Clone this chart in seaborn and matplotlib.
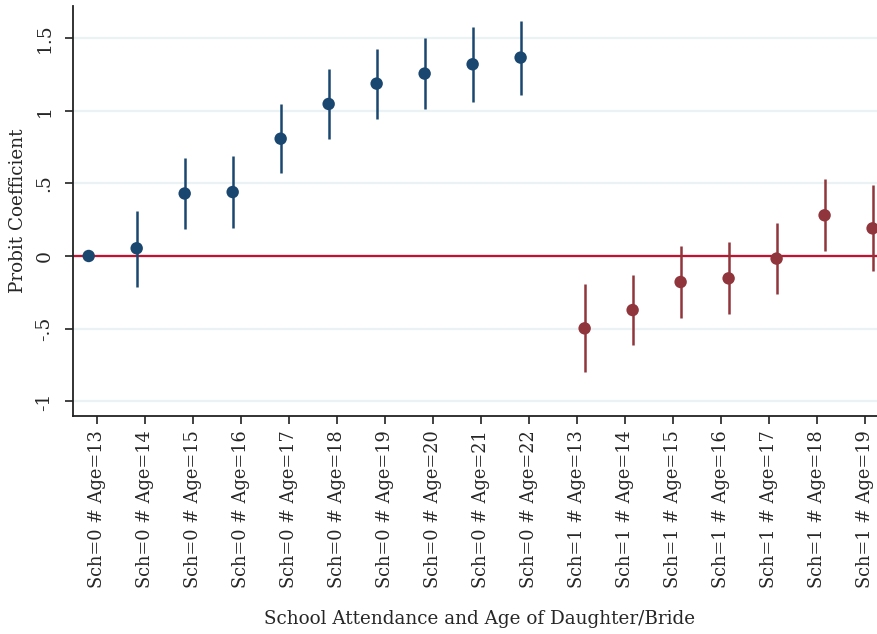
import numpy as np
import pandas as pd
import seaborn as sns
import matplotlib.pyplot as plt

Ages0 = [13, 14, 15, 16, 17, 18, 19, 20, 21, 22]
Coef0 = [0.0, 0.053, 0.43, 0.44, 0.807, 1.046, 1.186, 1.255, 1.319, 1.365]
Lo0 = [0.0, -0.21, 0.184, 0.195, 0.569, 0.807, 0.945, 1.01, 1.062, 1.11]
Hi0 = [0.0, 0.31, 0.674, 0.688, 1.046, 1.285, 1.422, 1.50, 1.574, 1.617]

Ages1 = [13, 14, 15, 16, 17, 18, 19]
Coef1 = [-0.498, -0.372, -0.179, -0.154, -0.018, 0.28, 0.19]
Lo1 = [-0.80, -0.615, -0.429, -0.40, -0.264, 0.032, -0.101]
Hi1 = [-0.19, -0.131, 0.069, 0.094, 0.225, 0.53, 0.489]

YTicks = [-1, -0.5, 0, 0.5, 1, 1.5]
YTickLabels = ['-1', '-.5', '0', '.5', '1', '1.5']

Labels = ['Sch=0 # Age=%d' % a for a in Ages0] + ['Sch=1 # Age=%d' % a for a in Ages1]

Blue = '#1a476f'
Red = '#90353b'

df0 = pd.DataFrame({'pos': np.arange(len(Ages0)) - 0.167, 'coef': Coef0, 'lo': Lo0, 'hi': Hi0})
df1 = pd.DataFrame({'pos': np.arange(len(Ages1)) + len(Ages0) + 0.167, 'coef': Coef1, 'lo': Lo1, 'hi': Hi1})

sns.set_style('white')
plt.rcParams['font.family'] = ['DejaVu Serif']

fig = plt.figure(figsize=(8.78, 6.34), dpi=100)
ax = fig.add_axes([73/878, 218/634, 1 - 73/878 + 0.01, (416 - 6)/634])

for y in YTicks:
    ax.axhline(y, color='#eaf2f3', lw=1.6, zorder=0)
ax.axhline(0, color='#c8102e', lw=1.6, zorder=1)

ax.vlines(df0['pos'], df0['lo'], df0['hi'], color=Blue, lw=1.8, zorder=2)
ax.vlines(df1['pos'], df1['lo'], df1['hi'], color=Red, lw=1.8, zorder=2)
sns.scatterplot(data=df0, x='pos', y='coef', color=Blue, s=80, edgecolor='none', ax=ax, zorder=3)
sns.scatterplot(data=df1, x='pos', y='coef', color=Red, s=80, edgecolor='none', ax=ax, zorder=3)

ax.set_xlim(-0.494, 16.28 + 0.01 * 878 / 48)
ax.set_ylim(-1.101, 1.72)
ax.set_xticks(np.arange(len(Labels)))
ax.set_xticklabels(Labels, rotation=90, fontsize=12.8)
ax.set_yticks(YTicks)
ax.set_yticklabels(YTickLabels, rotation=90, va='center', fontsize=13.5)
ax.tick_params(axis='both', direction='out', length=6, width=1.3, color='#333333')
ax.tick_params(axis='x', pad=4)
ax.tick_params(axis='y', pad=8)
ax.tick_params(axis='both', which='both', bottom=True, left=True)

for s in ['top', 'right']:
    ax.spines[s].set_visible(False)
for s in ['left', 'bottom']:
    ax.spines[s].set_color('#222222')
    ax.spines[s].set_linewidth(1.3)

ax.set_xlabel('School Attendance and Age of Daughter/Bride', fontsize=13.2, labelpad=16)
ax.set_ylabel('Probit Coefficient', fontsize=13.2, labelpad=6)

fig.savefig('out.png', dpi=100)
